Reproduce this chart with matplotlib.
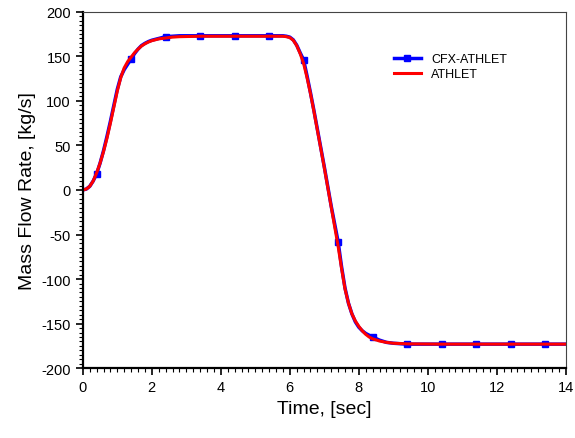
import matplotlib.pyplot as plt
from matplotlib.ticker import MultipleLocator

plt.rcParams["font.family"] = ["Liberation Sans", "DejaVu Sans"]
plt.rcParams["axes.unicode_minus"] = False

# time grid shared by both curves
time = [0.0, 0.1, 0.2, 0.3, 0.4, 0.5, 0.6, 0.7, 0.8, 0.9, 1.0, 1.1, 1.2, 1.3, 1.4,
        1.5, 1.6, 1.7, 1.8, 1.9, 2.0, 2.2, 2.4, 2.6, 2.8, 3.4, 4.4, 5.4, 5.8, 5.9,
        6.0, 6.1, 6.2, 6.3, 6.4, 6.5, 6.6, 6.7, 6.8, 6.9, 7.0, 7.1, 7.2, 7.3, 7.4,
        7.5, 7.6, 7.7, 7.8, 7.9, 8.0, 8.1, 8.2, 8.3, 8.4, 8.6, 8.8, 9.0, 9.4, 10.4,
        11.4, 12.4, 13.4, 14.0]

athlet_flow = [0, 1, 4, 10, 19, 30, 43, 58, 75, 93, 111, 126, 137, 144, 149,
               154, 158, 161.5, 164, 166, 167.5, 169.5, 170.5, 171.5, 172, 172.5, 172.5, 172.5, 172.5, 172,
               171, 168, 162, 153, 142, 126, 108, 88, 67, 46, 25, 3, -19, -41, -63,
               -88, -111, -127, -139, -147, -153, -158, -162, -165, -167, -169.5, -171, -172, -172.7, -173,
               -173, -173, -173, -173]

cfx_flow = [0, 1, 4, 10, 18, 30, 44, 60, 77, 95, 113, 127, 135, 141, 147,
            153, 158, 162, 164.5, 166.5, 168, 170, 172, 172.5, 173, 173, 173, 173, 173, 172.5,
            171.5, 168.5, 162.5, 154, 146, 128, 109, 89, 68, 47, 26, 4, -18, -38, -58,
            -86, -110, -127, -139, -148, -154, -158, -161, -163, -165, -168.5, -171, -172, -173, -173,
            -173, -173, -173, -173]

# CFX-ATHLET markers, one per second from 0.4 s
mark_times = [0.4, 1.4, 2.4, 3.4, 4.4, 5.4, 6.4, 7.4, 8.4, 9.4, 10.4, 11.4, 12.4, 13.4]
cfx_marks = [time.index(t) for t in mark_times]

fig = plt.figure(figsize=(5.75, 4.39), dpi=100)
ax = fig.add_axes([0.144, 0.159, 0.84, 0.812])

ax.plot(time, cfx_flow, color="blue", lw=2.5, marker="s", ms=5,
        markevery=cfx_marks, label="CFX-ATHLET")
ax.plot(time, athlet_flow, color="red", lw=2.2, label="ATHLET")

ax.set_xlim(0, 14)
ax.set_ylim(-200, 200)
ax.xaxis.set_major_locator(MultipleLocator(2))
ax.xaxis.set_minor_locator(MultipleLocator(0.2))
ax.yaxis.set_major_locator(MultipleLocator(50))
ax.yaxis.set_minor_locator(MultipleLocator(5))
ax.tick_params(which="major", direction="out", length=5, width=1.2, labelsize=10.5,
               top=False, right=False)
ax.tick_params(which="minor", direction="out", length=3, width=0.8, top=False, right=False)

for side in ["left", "bottom"]:
    ax.spines[side].set_linewidth(1.6)
for side in ["top", "right"]:
    ax.spines[side].set_linewidth(0.8)
    ax.spines[side].set_color("#444444")

ax.set_xlabel("Time, [sec]", fontsize=14)
ax.set_ylabel("Mass Flow Rate, [kg/s]", fontsize=14)

ax.legend(loc="upper left", bbox_to_anchor=(0.62, 0.915), frameon=False, fontsize=9,
          handlelength=2.2, labelspacing=0.25)

fig.savefig("out.png", dpi=100)
